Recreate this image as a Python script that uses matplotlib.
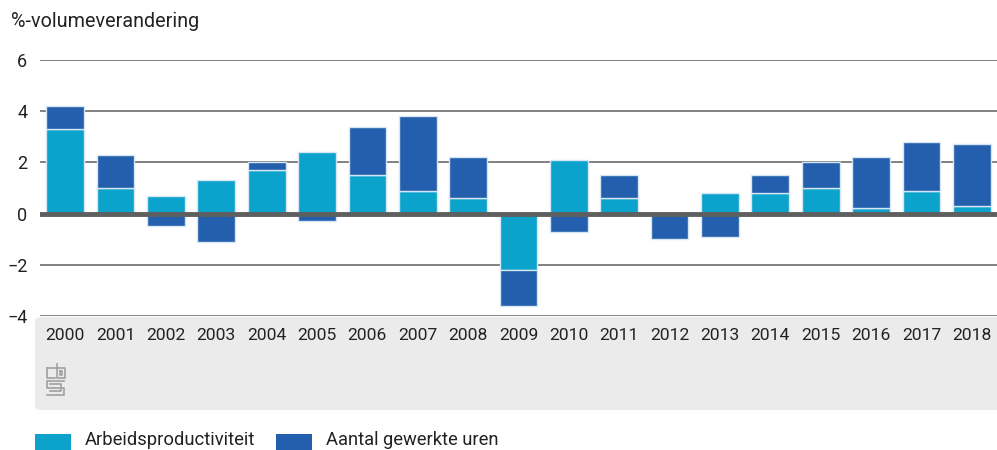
import numpy as np
import matplotlib.pyplot as plt
from matplotlib.patches import FancyBboxPatch, Rectangle

plt.rcParams['font.family'] = ['Roboto', 'DejaVu Sans']

years = ['2000', '2001', '2002', '2003', '2004', '2005', '2006', '2007', '2008', '2009',
         '2010', '2011', '2012', '2013', '2014', '2015', '2016', '2017', '2018']
productiviteit = [3.3, 1.0, 0.7, 1.3, 1.7, 2.4, 1.5, 0.9, 0.6, -2.2,
                  2.1, 0.6, 0.0, 0.8, 0.8, 1.0, 0.2, 0.9, 0.3]
uren = [0.9, 1.3, -0.5, -1.1, 0.3, -0.3, 1.9, 2.9, 1.6, -1.4,
        -0.7, 0.9, -1.0, -0.9, 0.7, 1.0, 2.0, 1.9, 2.4]
yticks = [-4, -2, 0, 2, 4, 6]

light = '#0ba3cb'
dark = '#235fad'
edge = '#d6e6f4'
grid_col = '#777777'
text_col = '#222222'

fig = plt.figure(figsize=(9.97, 4.5), dpi=100)
W, H = 997, 450

# grey panel behind year labels
panel = FancyBboxPatch((35 / W, 1 - 410 / H), 975 / W, 93 / H,
                       boxstyle='round,pad=0,rounding_size=0.008',
                       transform=fig.transFigure, facecolor='#ebebeb',
                       edgecolor='none', zorder=-1)
fig.patches.append(panel)

ax = fig.add_axes([40 / W, 1 - 316 / H, 957 / W, 256 / H])
ax.set_facecolor('none')

x = np.arange(len(years))
prod = np.array(productiviteit)
hrs = np.array(uren)
w = 0.75

ax.bar(x, prod, width=w, color=light, edgecolor=edge, linewidth=1, zorder=2)
# stack hours on top of productivity when same sign, otherwise from zero
bottom = np.where(np.sign(prod) == np.sign(hrs), prod, 0)
ax.bar(x, hrs, bottom=bottom, width=w, color=dark, edgecolor=edge, linewidth=1, zorder=2)

ax.set_xlim(-0.5, len(years) - 0.5)
ax.set_ylim(-4, 6)
ax.set_yticks(yticks)
ax.set_yticklabels([str(v).replace('-', '\u2212') for v in yticks])
ax.set_xticks(x)
ax.set_xticklabels(years)
for v in yticks:
    if v != 0:
        ax.axhline(v, color=grid_col, lw=1.3, zorder=1)
ax.axhline(0, color='#5f5f5f', lw=3.5, zorder=3)

for s in ax.spines.values():
    s.set_visible(False)
ax.tick_params(axis='both', length=0, labelsize=13, colors=text_col)
ax.tick_params(axis='x', pad=9, labelsize=12.6)
ax.tick_params(axis='y', pad=9)

fig.text(11 / W, 1 - 12 / H, '%-volumeverandering', ha='left', va='top',
         fontsize=14.2, color=text_col)

# cbs logo (rough sketch)
lc = '#a0a0a0'
logo = [
    [(47, 368), (47, 378), (55, 378)],
    [(47, 368), (55, 368)],
    [(57, 364), (57, 378), (65, 378), (65, 368), (57, 368)],
    [(60, 371), (62, 371), (62, 375), (60, 375), (60, 371)],
    [(64, 381), (47, 381), (47, 388), (64, 388), (64, 395), (47, 395)],
    [(50, 384), (61, 384), (61, 391), (50, 391)],
]
for pts in logo:
    xs = [p[0] / W for p in pts]
    ys = [1 - p[1] / H for p in pts]
    fig.add_artist(plt.Line2D(xs, ys, color=lc, lw=1.2, transform=fig.transFigure))

# legend
labels = ['Arbeidsproductiviteit', 'Aantal gewerkte uren']
colors = [light, dark]
lx = [35, 276]
for px, lab, c in zip(lx, labels, colors):
    fig.patches.append(Rectangle((px / W, 1 - 456 / H), 36 / W, 22 / H,
                                 transform=fig.transFigure, facecolor=c,
                                 edgecolor='none'))
    fig.text((px + 50) / W, 1 - 445 / H, lab, ha='left', va='baseline',
             fontsize=13.2, color=text_col)

fig.savefig('out.png', dpi=100)
